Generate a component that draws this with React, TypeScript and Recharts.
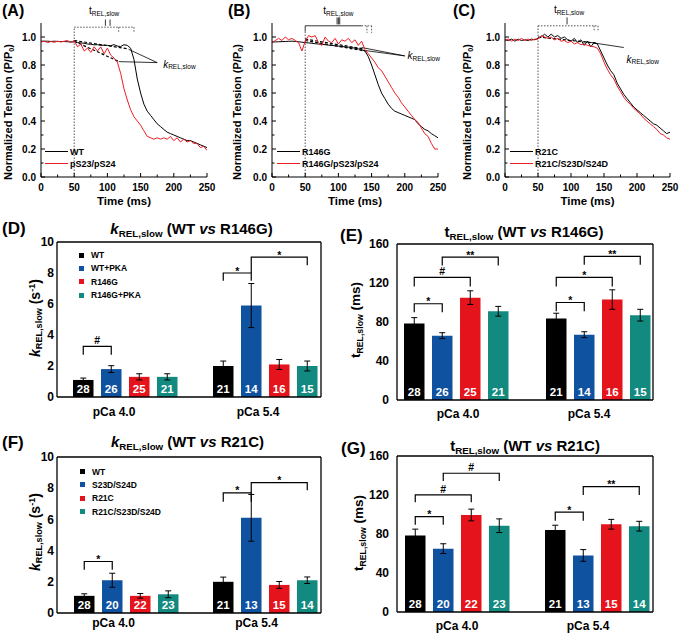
import React from "react";
import {
  LineChart,
  Line,
  BarChart,
  Bar,
  XAxis,
  YAxis,
  ReferenceLine,
  ReferenceDot,
  ErrorBar,
  LabelList,
  Legend,
} from "recharts";

const FONT = '"Liberation Sans", Arial, Helvetica, sans-serif';
const RED_TRACE = "#ee1c25";
const BAR_COLORS = ["#000000", "#0f52a0", "#e5131b", "#138a7f"];
const BAR_SIZE = 20.5;
const BAR_GAP = 7.5;

// ---- tension traces (ms, P/P0) ----
const TIME = [
  0, 5, 10, 15, 20, 25, 30, 35, 40, 45, 50, 55, 60, 65, 70, 75, 80, 85, 90, 95,
  100, 105, 110, 115, 120, 125, 130, 135, 140, 145, 150, 155, 160, 165, 170,
  175, 180, 185, 190, 195, 200, 205, 210, 215, 220, 225, 230, 235, 240, 245, 250,
];
const TIME_TICKS = [0, 25, 50, 75, 100, 125, 150, 175, 200, 225, 250];
const TENSION_TICKS = [0, 0.1, 0.2, 0.3, 0.4, 0.5, 0.6, 0.7, 0.8, 0.9, 1.0];

const A_WT = [
  0.97, 0.97, 0.97, 0.968, 0.97, 0.968, 0.967, 0.968, 0.966, 0.965, 0.965, 0.96,
  0.958, 0.955, 0.95, 0.948, 0.944, 0.945, 0.94, 0.942, 0.94, 0.938, 0.945,
  0.935, 0.932, 0.945, 0.94, 0.92, 0.84, 0.7, 0.6, 0.52, 0.47, 0.44, 0.41, 0.38,
  0.36, 0.34, 0.32, 0.31, 0.3, 0.29, 0.28, 0.27, 0.26, 0.26, 0.25, 0.24, 0.23,
  0.22, 0.21,
];
const A_PS = [
  0.965, 0.97, 0.96, 0.968, 0.962, 0.97, 0.965, 0.97, 0.975, 0.96, 0.975, 0.93,
  0.95, 0.9, 0.92, 0.89, 0.93, 0.9, 0.93, 0.88, 0.92, 0.87, 0.85, 0.82, 0.74,
  0.63, 0.55, 0.48, 0.43, 0.4, 0.37, 0.33, 0.29, 0.28, 0.27, 0.28, 0.27, 0.28,
  0.27, 0.29, 0.26, 0.28, 0.25, 0.27, 0.25, 0.26, 0.24, 0.24, 0.21, 0.22, 0.19,
];
const B_R146G = [
  0.965, 0.965, 0.966, 0.967, 0.968, 0.969, 0.97, 0.968, 0.966, 0.963, 0.96,
  0.958, 0.955, 0.952, 0.95, 0.947, 0.945, 0.942, 0.94, 0.937, 0.935, 0.932,
  0.93, 0.927, 0.924, 0.92, 0.915, 0.91, 0.9, 0.86, 0.8, 0.73, 0.66, 0.6, 0.56,
  0.52, 0.49, 0.47, 0.46, 0.45, 0.44, 0.43, 0.42, 0.41, 0.38, 0.36, 0.34, 0.33,
  0.31, 0.295, 0.28,
];
const B_PS = [
  0.96, 0.975, 0.99, 0.975, 1.0, 0.98, 0.99, 0.975, 0.96, 0.9, 0.97, 1.01, 1.0,
  1.01, 0.96, 0.94, 1.0, 0.97, 0.96, 0.99, 0.95, 0.98, 0.97, 0.99, 0.96, 0.98,
  0.94, 0.97, 0.91, 0.88, 0.85, 0.82, 0.78, 0.76, 0.72, 0.68, 0.64, 0.6, 0.57,
  0.53, 0.5, 0.47, 0.44, 0.41, 0.39, 0.35, 0.31, 0.29, 0.24, 0.2, 0.2,
];
const C_R21C = [
  0.98, 0.975, 0.985, 0.97, 0.985, 0.975, 0.98, 0.975, 0.985, 0.98, 0.99, 1.0,
  1.02, 1.0, 1.02, 1.0, 1.01, 0.99, 1.0, 0.98, 0.97, 0.99, 0.96, 0.98, 0.94,
  0.97, 0.93, 0.96, 0.95, 0.9, 0.85, 0.8, 0.76, 0.73, 0.67, 0.63, 0.59, 0.56,
  0.53, 0.5, 0.48, 0.46, 0.44, 0.42, 0.4, 0.38, 0.37, 0.35, 0.33, 0.31, 0.32,
];
const C_SD = [
  0.975, 0.985, 0.97, 0.985, 0.975, 0.99, 0.975, 0.985, 0.975, 0.985, 0.985,
  1.01, 1.0, 0.99, 1.0, 0.98, 0.99, 0.97, 0.975, 0.96, 0.97, 0.95, 0.96, 0.945,
  0.95, 0.94, 0.935, 0.93, 0.92, 0.88, 0.82, 0.77, 0.73, 0.7, 0.65, 0.61, 0.57,
  0.54, 0.52, 0.49, 0.47, 0.45, 0.42, 0.4, 0.38, 0.36, 0.34, 0.31, 0.3, 0.28,
  0.27,
];

// annotation segments [x1, y1, x2, y2] in data units
const A_DOTTED = [[50, 0, 50, 1.07], [50, 1.07, 140, 1.07], [117, 1.07, 117, 1.03], [140, 1.07, 140, 1.03]];
const A_FITS = [[50, 0.975, 132, 0.915], [50, 0.97, 117, 0.825]];
const A_POINTERS = [[175, 0.817, 132, 0.912], [175, 0.817, 117, 0.824], [97, 1.125, 97, 1.08], [104, 1.125, 104, 1.08]];
const B_DOTTED = [[50, 0, 50, 1.04], [135, 1.08, 150, 1.08], [143, 1.08, 143, 1.03], [150, 1.08, 150, 1.03]];
const B_FITS = [[50, 0.985, 138, 0.915], [50, 0.975, 140, 0.9]];
const B_POINTERS = [
  [50, 1.04, 50, 1.08], [50, 1.08, 135, 1.08], [98, 1.14, 98, 1.09], [100, 1.14, 100, 1.09],
  [102, 1.14, 102, 1.09], [200, 0.865, 135, 0.925], [200, 0.865, 138, 0.905],
];
const C_DOTTED = [[50, 0, 50, 1.08], [50, 1.08, 141, 1.08], [135, 1.08, 135, 1.04], [141, 1.08, 141, 1.04]];
const C_FITS = [[50, 1.0, 140, 0.955]];
const C_POINTERS = [[180, 0.925, 120, 0.968], [94, 1.14, 94, 1.09]];

// ---- bar panels ----
const PCA = ["pCa 4.0", "pCa 5.4"];
const R146G_SERIES = ["WT", "WT+PKA", "R146G", "R146G+PKA"];
const R21C_SERIES = ["WT", "S23D/S24D", "R21C", "R21C/S23D/S24D"];
const R146G_N = [[28, 21], [26, 14], [25, 16], [21, 15]];
const R21C_N = [[28, 21], [20, 13], [22, 15], [23, 14]];

const D_MEAN = [[1.1, 2.0], [1.8, 5.9], [1.3, 2.1], [1.3, 2.0]];
const D_ERR = [[0.12, 0.32], [0.22, 1.42], [0.2, 0.32], [0.2, 0.32]];
const E_MEAN = [[78.5, 83.5], [66, 67], [105, 103], [91, 87]];
const E_ERR = [[6, 5.5], [3, 3], [7, 10], [5, 6]];
const F_MEAN = [[1.1, 2.0], [2.1, 6.1], [1.1, 1.8], [1.2, 2.1]];
const F_ERR = [[0.13, 0.3], [0.45, 1.5], [0.15, 0.22], [0.22, 0.21]];
const G_MEAN = [[78.5, 84], [65, 58], [99.5, 90], [88.5, 88]];
const G_ERR = [[6.5, 5], [5, 6], [6, 5], [7, 5]];

// significance brackets: group, bar a, bar b, top, leg ends, symbol
const D_BRACKETS = [
  { g: 0, a: 0, b: 1, y: 3.27, la: 2.73, lb: 2.73, s: "#" },
  { g: 1, a: 0, b: 1, y: 8.0, la: 7.5, lb: 7.5, s: "*" },
  { g: 1, a: 1, b: 3, y: 9.03, la: 8.0, lb: 8.5, s: "*" },
];
const E_BRACKETS = [
  { g: 0, a: 0, b: 1, y: 98.7, la: 90, lb: 90, s: "*" },
  { g: 0, a: 0, b: 2, y: 125.7, la: 116.5, lb: 116.5, s: "#" },
  { g: 0, a: 1, b: 3, y: 146.6, la: 138, lb: 138, s: "**" },
  { g: 1, a: 0, b: 1, y: 100, la: 91, lb: 91, s: "*" },
  { g: 1, a: 0, b: 2, y: 125.7, la: 116.5, lb: 116.5, s: "*" },
  { g: 1, a: 1, b: 3, y: 147.3, la: 138.7, lb: 138.7, s: "**" },
];
const F_BRACKETS = [
  { g: 0, a: 0, b: 1, y: 3.3, la: 2.77, lb: 2.77, s: "*" },
  { g: 1, a: 0, b: 1, y: 7.7, la: 7.13, lb: 7.13, s: "*" },
  { g: 1, a: 1, b: 3, y: 8.36, la: 7.7, lb: 7.87, s: "*" },
];
const G_BRACKETS = [
  { g: 0, a: 0, b: 1, y: 97.9, la: 89.4, lb: 89.4, s: "*" },
  { g: 0, a: 0, b: 2, y: 120.1, la: 112.6, lb: 112.6, s: "#" },
  { g: 0, a: 1, b: 3, y: 142.3, la: 134.4, lb: 134.4, s: "#" },
  { g: 1, a: 0, b: 1, y: 102.4, la: 93.5, lb: 93.5, s: "*" },
  { g: 1, a: 1, b: 3, y: 128.6, la: 120.1, lb: 120.1, s: "**" },
];

// ---- small render helpers ----
const TimeTick = (p: any) => {
  const v = p.payload.value;
  const major = v % 50 === 0;
  return (
    <g>
      <line x1={p.x} x2={p.x} y1={p.y} y2={p.y - (major ? 4 : 2.5)} stroke="#000" />
      {major && (
        <text x={p.x} y={p.y + 10} textAnchor="middle" dominantBaseline="central"
          fontFamily={FONT} fontSize={10} fontWeight="bold" fill="#000">{v}</text>
      )}
    </g>
  );
};

const TensionTick = (p: any) => {
  const v = p.payload.value;
  const major = Math.round(v * 10) % 2 === 0;
  return (
    <g>
      <line x1={p.x} x2={p.x + (major ? 4 : 2.5)} y1={p.y} y2={p.y} stroke="#000" />
      {major && (
        <text x={p.x - 5} y={p.y} textAnchor="end" dominantBaseline="central"
          fontFamily={FONT} fontSize={10} fontWeight="bold" fill="#000">{v.toFixed(1)}</text>
      )}
    </g>
  );
};

const lineLegend = (props: any) => (
  <div>
    {(props.payload || []).map((p: any) => (
      <div key={p.value} style={{ display: "flex", alignItems: "center", height: 12 }}>
        <span style={{ width: 23, borderTop: `1.3px solid ${p.color}`, marginRight: 2 }} />
        <span style={{ fontFamily: FONT, fontSize: 9, fontWeight: "bold", color: "#000", whiteSpace: "nowrap" }}>{p.value}</span>
      </div>
    ))}
  </div>
);

// legend rows follow the series order, not the alphabetical payload order
const barLegend = (names: string[]) => () => (
  <div>
    {names.map((n, i) => (
      <div key={n} style={{ display: "flex", alignItems: "center", height: 13.3 }}>
        <span style={{ width: 5, height: 5, background: BAR_COLORS[i], marginRight: 7 }} />
        <span style={{ fontFamily: FONT, fontSize: 8.5, fontWeight: "bold", color: "#000", whiteSpace: "nowrap" }}>{n}</span>
      </div>
    ))}
  </div>
);

const renderCount = (p: any) => (
  <text x={Number(p.x) + Number(p.width) / 2} y={Number(p.y) + Number(p.height) - 8}
    textAnchor="middle" dominantBaseline="central" fill="#fff"
    fontFamily={FONT} fontSize={11.5} fontWeight="bold">{p.value}</text>
);

// brackets start at bar "a"; the y scale is taken from that bar's own geometry
const bracketLabel = (si: number, brackets: any[]) => (p: any) => {
  const list = brackets.filter((b) => b.a === si && b.g === p.index);
  if (!list.length) return null;
  const x = Number(p.x), y = Number(p.y), w = Number(p.width), h = Number(p.height);
  const base = y + h;
  const ppu = h / Number(p.value);
  const xa = x + w / 2;
  return (
    <g>
      {list.map((b, k) => {
        const xb = xa + (b.b - b.a) * (BAR_SIZE + BAR_GAP);
        const yt = base - b.y * ppu;
        return (
          <g key={k}>
            <path d={`M${xa},${base - b.la * ppu}V${yt}H${xb}V${base - b.lb * ppu}`} fill="none" stroke="#000" strokeWidth={1.2} />
            <text x={(xa + xb) / 2} y={yt + (b.s === "#" ? -2 : 1.5)} textAnchor="middle"
              fontFamily={FONT} fontSize={10.5} fontWeight="bold" fill="#000">{b.s}</text>
          </g>
        );
      })}
    </g>
  );
};

const segs = (list: number[][], style: any, prefix: string) =>
  list.map(([x1, y1, x2, y2], i) => (
    <ReferenceLine key={prefix + i} segment={[{ x: x1, y: y1 }, { x: x2, y: y2 }]} ifOverflow="visible" {...style} />
  ));

function TensionPanel(props: any) {
  const { left, width, yAxisWidth, marginRight, series, names, dotted, fits, pointers, tLabel, kLabel, legendLeft } = props;
  const rows = TIME.map((t, i) => ({ t, a: series[0][i], b: series[1][i] }));
  return (
    <div style={{ position: "absolute", left, top: 0 }}>
      <LineChart width={width} height={210} data={rows} margin={{ top: 23, right: marginRight, bottom: 0, left: 0 }}>
        <XAxis dataKey="t" type="number" domain={[0, 250]} ticks={TIME_TICKS} interval={0} height={33}
          tickSize={0} tickMargin={0} tickLine={false} tick={TimeTick} axisLine={{ stroke: "#000" }} allowDataOverflow />
        <YAxis type="number" domain={[0, 1.1]} ticks={TENSION_TICKS} interval={0} width={yAxisWidth}
          tickSize={0} tickMargin={0} tickLine={false} tick={TensionTick} axisLine={{ stroke: "#000" }} allowDataOverflow />
        {segs(dotted, { stroke: "#555", strokeDasharray: "1.5 1.5", strokeWidth: 1 }, "d")}
        {segs(fits, { stroke: "#000", strokeDasharray: "3 2", strokeWidth: 1.2 }, "f")}
        {segs(pointers, { stroke: "#000", strokeWidth: 0.8 }, "p")}
        <Line dataKey="a" name={names[0]} stroke="#000" strokeWidth={1} dot={false} isAnimationActive={false} />
        <Line dataKey="b" name={names[1]} stroke={RED_TRACE} strokeWidth={1} dot={false} isAnimationActive={false} />
        <ReferenceDot x={tLabel[0]} y={tLabel[1]} r={0} ifOverflow="visible"
          shape={(p: any) => (
            <text x={p.cx} y={p.cy} textAnchor="middle" dominantBaseline="central" fontFamily={FONT} fontSize={10} fill="#000">
              t<tspan fontSize={6.5} dy={2.5}>REL,slow</tspan>
            </text>
          )} />
        <ReferenceDot x={kLabel[0]} y={kLabel[1]} r={0} ifOverflow="visible"
          shape={(p: any) => (
            <text x={p.cx} y={p.cy} textAnchor="start" dominantBaseline="central" fontFamily={FONT} fontSize={10} fill="#000">
              <tspan fontStyle="italic">k</tspan><tspan fontSize={6.5} dy={2.5}>REL,slow</tspan>
            </text>
          )} />
        <Legend layout="vertical" align="center" verticalAlign="middle" content={lineLegend}
          wrapperStyle={{ left: legendLeft, top: 145.5, width: "auto" }} />
      </LineChart>
    </div>
  );
}

function BarPanel(props: any) {
  const {
    left, top, width, height, marginTop, marginRight, xAxisHeight, yMax, yTicks, yTickMargin,
    padL, padR, names, means, errs, counts, brackets, catDx, catDy, legendPos,
  } = props;
  const rows = PCA.map((cat, ci) => {
    const r: any = { cat };
    names.forEach((_: string, si: number) => {
      r[`m${si}`] = means[si][ci];
      r[`e${si}`] = errs[si][ci];
      r[`n${si}`] = counts[si][ci];
    });
    return r;
  });
  const frame = { stroke: "#000", strokeWidth: 1.3 };
  return (
    <div style={{ position: "absolute", left, top }}>
      <BarChart width={width} height={height} data={rows} barSize={BAR_SIZE} barGap={BAR_GAP}
        margin={{ top: marginTop - 1, right: marginRight - 1, bottom: 0, left: 0 }}>
        <XAxis dataKey="cat" padding={{ left: padL, right: padR }} height={xAxisHeight} interval={0}
          tickLine={false} tickSize={0} tickMargin={0} axisLine={frame}
          tick={(p: any) => (
            <text x={p.x + catDx[p.index]} y={p.y + catDy} textAnchor="middle" dominantBaseline="central"
              fontFamily={FONT} fontSize={12} fontWeight="bold" fill="#000">{p.payload.value}</text>
          )} />
        <XAxis xAxisId="top" dataKey="cat" orientation="top" padding={{ left: padL, right: padR }}
          height={1} tick={false} tickLine={false} axisLine={frame} />
        <YAxis domain={[0, yMax]} ticks={yTicks} interval={0} width={57} tickLine={false} tickSize={0}
          tickMargin={yTickMargin} axisLine={frame} allowDataOverflow
          tick={{ fontFamily: FONT, fontSize: 12, fontWeight: "bold", fill: "#000" }} />
        <YAxis yAxisId="r" orientation="right" domain={[0, yMax]} width={1} tick={false} tickLine={false}
          axisLine={frame} allowDataOverflow />
        {names.map((name: string, si: number) => (
          <Bar key={name} dataKey={`m${si}`} name={name} fill={BAR_COLORS[si]} isAnimationActive={false}>
            <ErrorBar dataKey={`e${si}`} width={3} stroke="#000" strokeWidth={1} />
            <LabelList dataKey={`n${si}`} content={renderCount} />
            <LabelList dataKey={`m${si}`} content={bracketLabel(si, brackets)} />
          </Bar>
        ))}
        {legendPos && (
          <Legend layout="vertical" align="center" verticalAlign="middle" content={barLegend(names)}
            wrapperStyle={{ left: legendPos[0], top: legendPos[1], width: "auto" }} />
        )}
      </BarChart>
    </div>
  );
}

const Sb = ({ children }: any) => <span style={{ fontSize: "0.65em", verticalAlign: "-0.3em" }}>{children}</span>;
const Sp = ({ children }: any) => <span style={{ fontSize: "0.65em", verticalAlign: "0.55em" }}>{children}</span>;

const Txt = ({ x, y, size, children, rotate, start, bold = true }: any) => (
  <div
    style={{
      position: "absolute",
      left: x,
      top: y,
      transform: `translate(${start ? "0" : "-50%"}, -50%)${rotate ? " rotate(-90deg)" : ""}`,
      fontFamily: FONT,
      fontSize: size,
      fontWeight: bold ? "bold" : "normal",
      whiteSpace: "nowrap",
      lineHeight: 1,
      color: "#000",
    }}
  >
    {children}
  </div>
);

const TensionLabel = () => (
  <>
    Normalized Tension (P/P<Sb>0</Sb>)
  </>
);

export default function App() {
  return (
    <div style={{ position: "absolute", left: 0, top: 0, width: 683, height: 635, background: "#fff", overflow: "hidden" }}>
      <TensionPanel left={0} width={225} yAxisWidth={41} marginRight={18} series={[A_WT, A_PS]}
        names={["WT", "pS23/pS24"]} dotted={A_DOTTED} fits={A_FITS} pointers={A_POINTERS}
        tLabel={[95, 1.19]} kLabel={[184, 0.81]} legendLeft={45} />
      <TensionPanel left={225} width={225} yAxisWidth={47} marginRight={12} series={[B_R146G, B_PS]}
        names={["R146G", "R146G/pS23/pS24"]} dotted={B_DOTTED} fits={B_FITS} pointers={B_POINTERS}
        tLabel={[100, 1.19]} kLabel={[204, 0.868]} legendLeft={52} />
      <TensionPanel left={450} width={233} yAxisWidth={55} marginRight={13} series={[C_R21C, C_SD]}
        names={["R21C", "R21C/S23D/S24D"]} dotted={C_DOTTED} fits={C_FITS} pointers={C_POINTERS}
        tLabel={[97, 1.2]} kLabel={[184, 0.845]} legendLeft={60} />

      <BarPanel left={0} top={185} width={340} height={237} marginTop={57} marginRight={19} xAxisHeight={25}
        yMax={10} yTicks={[0, 2, 4, 6, 8, 10]} yTickMargin={3} padL={-2} padR={-14}
        names={R146G_SERIES} means={D_MEAN} errs={D_ERR} counts={R146G_N} brackets={D_BRACKETS}
        catDx={[-11, -7]} catDy={15} legendPos={[79, 63.5]} />
      <BarPanel left={340} top={185} width={343} height={237} marginTop={59} marginRight={30} xAxisHeight={22}
        yMax={160} yTicks={[0, 40, 80, 120, 160]} yTickMargin={8} padL={-12} padR={-16}
        names={R146G_SERIES} means={E_MEAN} errs={E_ERR} counts={R146G_N} brackets={E_BRACKETS}
        catDx={[2, -9]} catDy={13.5} />
      <BarPanel left={0} top={405} width={340} height={230} marginTop={52} marginRight={19} xAxisHeight={22}
        yMax={10} yTicks={[0, 2, 4, 6, 8, 10]} yTickMargin={3} padL={0} padR={-14}
        names={R21C_SERIES} means={F_MEAN} errs={F_ERR} counts={R21C_N} brackets={F_BRACKETS}
        catDx={[-13, -9]} catDy={10} legendPos={[80, 60]} />
      <BarPanel left={340} top={405} width={343} height={230} marginTop={51} marginRight={30} xAxisHeight={23}
        yMax={160} yTicks={[0, 40, 80, 120, 160]} yTickMargin={8} padL={-10} padR={-14}
        names={R21C_SERIES} means={G_MEAN} errs={G_ERR} counts={R21C_N} brackets={G_BRACKETS}
        catDx={[0, -9]} catDy={14} />

      {/* panel letters */}
      <Txt x={2} y={11} size={16} start>(A)</Txt>
      <Txt x={228} y={11} size={16} start>(B)</Txt>
      <Txt x={453} y={11} size={16} start>(C)</Txt>
      <Txt x={2} y={228} size={17} start>(D)</Txt>
      <Txt x={340} y={235} size={17} start>(E)</Txt>
      <Txt x={2} y={442} size={17} start>(F)</Txt>
      <Txt x={341} y={448} size={17} start>(G)</Txt>

      {/* top row axis titles */}
      <Txt x={10} y={112} size={11} rotate><TensionLabel /></Txt>
      <Txt x={238.5} y={112} size={11} rotate><TensionLabel /></Txt>
      <Txt x={468.5} y={112} size={11} rotate><TensionLabel /></Txt>
      <Txt x={124} y={201.5} size={11.5}>Time (ms)</Txt>
      <Txt x={355} y={201.5} size={11.5}>Time (ms)</Txt>
      <Txt x={587.5} y={201.5} size={11.5}>Time (ms)</Txt>

      {/* bar panel titles */}
      <Txt x={191.5} y={230} size={15}><i>k</i><Sb>REL,slow</Sb> (WT <i>vs</i> R146G)</Txt>
      <Txt x={524} y={233} size={15}>t<Sb>REL,slow</Sb> (WT <i>vs</i> R146G)</Txt>
      <Txt x={187.5} y={443} size={15}><i>k</i><Sb>REL,slow</Sb> (WT <i>vs</i> R21C)</Txt>
      <Txt x={525} y={446.5} size={15}>t<Sb>REL,slow</Sb> (WT <i>vs</i> R21C)</Txt>

      <Txt x={36} y={318} size={14} rotate><i>k</i><Sb>REL,slow</Sb> (s<Sp>-1</Sp>)</Txt>
      <Txt x={356.5} y={320} size={13.5} rotate>t<Sb>REL,slow</Sb> (ms)</Txt>
      <Txt x={36} y={532} size={14} rotate><i>k</i><Sb>REL,slow</Sb> (s<Sp>-1</Sp>)</Txt>
      <Txt x={360} y={533} size={13.5} rotate>t<Sb>REL,slow</Sb> (ms)</Txt>
    </div>
  );
}
